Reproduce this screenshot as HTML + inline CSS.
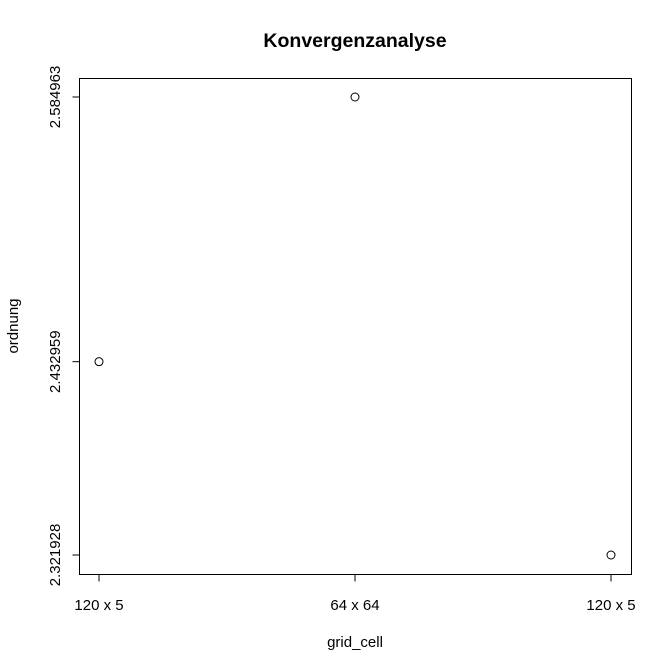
<!DOCTYPE html>
<html><head><meta charset="utf-8"><style>
html,body{margin:0;padding:0;background:#fff;}
svg{display:block;font-family:"Liberation Sans",Arial,sans-serif;}
</style></head><body>
<svg id="chart" width="672" height="672" viewBox="0 0 672 672">
<rect x="0" y="0" width="672" height="672" fill="#fff"/>
<text x="355" y="47" text-anchor="middle" font-size="19.5" font-weight="bold">Konvergenzanalyse</text>
<rect x="79.5" y="78.5" width="552" height="496" fill="none" stroke="#000" stroke-width="1"/>
<text x="355" y="647" text-anchor="middle" font-size="15">grid_cell</text>
<text x="0" y="0" transform="translate(18,326) rotate(-90)" text-anchor="middle" font-size="15">ordnung</text>
<g id="marks"></g>
</svg>
<script>
const categories = ["120 x 5", "64 x 64", "120 x 5"];
const values = [2.432959, 2.584963, 2.321928];
const yTicks = [2.321928, 2.432959, 2.584963];
const yTickLabels = ["2.321928", "2.432959", "2.584963"];

const ns = "http://www.w3.org/2000/svg";
const g = document.getElementById("marks");
const yMin = 2.321928, yMax = 2.584963;
function xScale(i){ return 99 + i * (611 - 99) / (categories.length - 1); }
function yScale(v){ return 555 - (v - yMin) / (yMax - yMin) * (555 - 97); }
function mk(tag, attrs){ const e = document.createElementNS(ns, tag); for (const k in attrs) e.setAttribute(k, attrs[k]); g.appendChild(e); return e; }

categories.forEach((c, i) => {
  const x = xScale(i);
  const t = mk("line", {x1: x, x2: x, y1: 574.5, y2: 581.5, stroke: "#000"});
  
  
  const l = mk("text", {x: x, y: 610, "text-anchor": "middle", "font-size": 15});
  l.textContent = c;
  
  
});
yTicks.forEach((v, i) => {
  const y = yScale(v);
  const t = mk("line", {x1: 72.5, x2: 79.5, y1: y, y2: y, stroke: "#000"});
  
  
  const l = mk("text", {x: 0, y: 0, transform: "translate(60," + y + ") rotate(-90)", "text-anchor": "middle", "font-size": 15});
  l.textContent = yTickLabels[i];
  
  
});
values.forEach((v, i) => {
  const p = mk("circle", {cx: xScale(i), cy: yScale(v), r: 4, fill: "none", stroke: "#000", "stroke-width": 1});
  
  
});
</script>
</body></html>
